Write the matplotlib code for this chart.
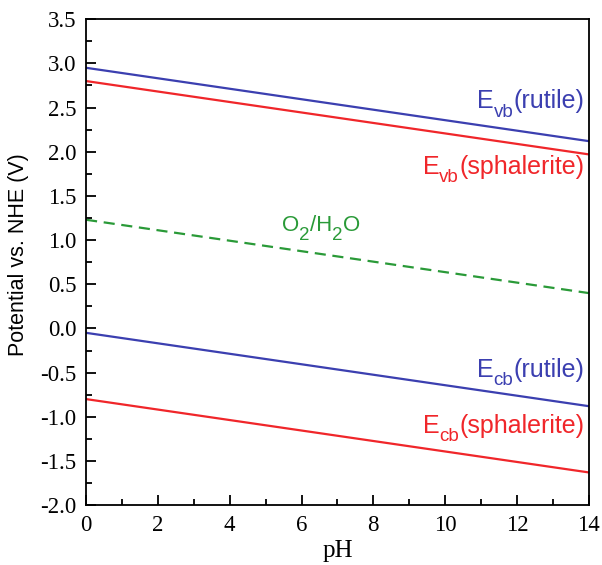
import numpy as np
import matplotlib
matplotlib.use('Agg')
import matplotlib.pyplot as plt
from matplotlib.ticker import MultipleLocator
from matplotlib.transforms import offset_copy

# band edge potentials vs NHE (V) at pH 0 and pH 14
ph = [0, 14]
evb_rutile = [2.95, 2.12]
evb_sphalerite = [2.80, 1.97]
o2_h2o = [1.23, 0.40]
ecb_rutile = [-0.05, -0.88]
ecb_sphalerite = [-0.80, -1.63]

blue = '#3b3fb0'
red = '#f0262a'
green = '#2a9a38'
sans = 'Liberation Sans'
serif = 'Liberation Serif'

fig = plt.figure(figsize=(6.02, 5.65), dpi=100)
ax = fig.add_axes([0.143, 0.106, 0.835, 0.860])

ax.plot(ph, evb_rutile, color=blue, lw=1.6)
ax.plot(ph, evb_sphalerite, color=red, lw=1.6)
ax.plot(ph, o2_h2o, color=green, lw=1.6, ls=(0, (5, 3)))
ax.plot(ph, ecb_rutile, color=blue, lw=1.6)
ax.plot(ph, ecb_sphalerite, color=red, lw=1.6)

ax.set_xlim(0, 14)
ax.set_ylim(-2.0, 3.5)

renderer = fig.canvas.get_renderer()


def label(x, y, parts, color, ha='right'):
    # parts: (text, fontsize, baseline shift in points); drawn left to right
    texts = []
    for s, size, dy in parts:
        t = ax.text(x, y, s, color=color, fontsize=size, family=sans,
                    ha='left', va='baseline')
        texts.append((t, dy))
    widths = [t.get_window_extent(renderer).width * 72 / fig.dpi for t, _ in texts]
    total = sum(widths)
    start = -total if ha == 'right' else -total / 2
    for (t, dy), w in zip(texts, widths):
        t.set_transform(offset_copy(ax.transData, fig=fig, x=start, y=dy, units='points'))
        start += w


fs = 18
sub = 13.5
label(13.87, 2.49, [('E', fs, 0), ('vb', sub, -6), ('(rutile)', fs, 0)], blue)
label(13.87, 1.75, [('E', fs, 0), ('vb', sub, -6), ('(sphalerite)', fs, 0)], red)
label(6.54, 1.10, [('O', 16, 0), ('2', 13.5, -6), ('/H', 16, 0), ('2', 13.5, -6), ('O', 16, 0)],
      green, ha='center')
label(13.87, -0.55, [('E', fs, 0), ('cb', sub, -6), ('(rutile)', fs, 0)], blue)
label(13.87, -1.18, [('E', fs, 0), ('cb', sub, -6), ('(sphalerite)', fs, 0)], red)

ax.xaxis.set_major_locator(MultipleLocator(2))
ax.xaxis.set_minor_locator(MultipleLocator(1))
ax.yaxis.set_major_locator(MultipleLocator(0.5))
ax.yaxis.set_minor_locator(MultipleLocator(0.25))
ax.yaxis.set_major_formatter(matplotlib.ticker.FormatStrFormatter('%.1f'))
ax.tick_params(which='both', direction='in', top=False, right=False, width=1.3)
ax.tick_params(which='major', length=7, labelsize=16.5, pad=7)
ax.tick_params(which='minor', length=4)
for lab in ax.get_xticklabels() + ax.get_yticklabels():
    lab.set_family(serif)
for sp in ax.spines.values():
    sp.set_linewidth(1.3)

ax.set_xlabel('pH', family=serif, fontsize=18, labelpad=3)
ax.set_ylabel('Potential vs. NHE (V)', family=sans, fontsize=15.5)
ax.yaxis.set_label_coords(-0.114, 0.516)

fig.savefig('out.png', dpi=100)
